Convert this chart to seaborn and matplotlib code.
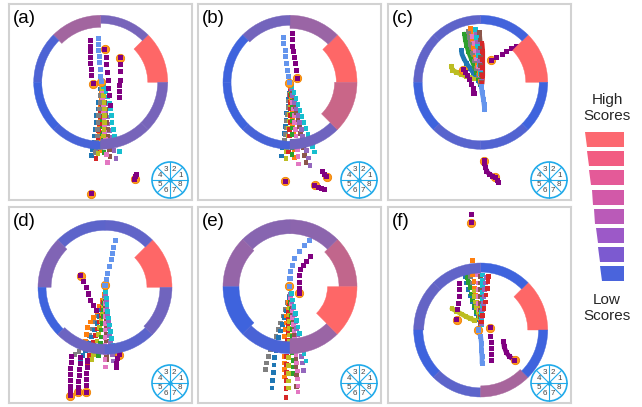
import matplotlib
matplotlib.use("Agg")
import matplotlib.pyplot as plt
from matplotlib.patches import Wedge, Circle, Polygon
from matplotlib.colors import LinearSegmentedColormap
import numpy as np
import pandas as pd
import seaborn as sns

sns.set_theme(style="white")
plt.rcParams["font.family"] = ["Liberation Sans", "DejaVu Sans"]

# ---------------------------------------------------------------- data
# Sector scores (sectors 1..8, counter-clockwise from east), 0 = low, 1 = high
A_SCORES = [1.00, 0.30, 0.52, 0.08, 0.00, 0.05, 0.30, 0.30]
B_SCORES = [1.00, 0.48, 0.28, 0.00, 0.00, 0.05, 0.25, 0.72]
C_SCORES = [1.00, 0.02, 0.17, 0.18, 0.00, 0.14, 0.10, 0.00]
D_SCORES = [1.00, 0.18, 0.16, 0.34, 0.00, 0.24, 0.15, 0.26]
E_SCORES = [0.68, 0.41, 0.38, 0.45, 0.00, 0.06, 0.48, 1.00]
F_SCORES = [1.00, 0.00, 0.18, 0.20, 0.00, 0.16, 0.55, 0.00]

# Sector weights, shown as ring thickness
A_WEIGHTS = [0.57, 0.03, 0.21, 0.03, 0.03, 0.03, 0.12, 0.12]
B_WEIGHTS = [0.60, 0.26, 0.12, 0.03, 0.03, 0.03, 0.12, 0.68]
C_WEIGHTS = [0.66, 0.05, 0.05, 0.05, 0.05, 0.05, 0.05, 0.05]
D_WEIGHTS = [0.80, 0.12, 0.12, 0.26, 0.03, 0.12, 0.12, 0.21]
E_WEIGHTS = [0.48, 0.30, 0.30, 0.39, 0.39, 0.21, 0.35, 1.00]
F_WEIGHTS = [0.57, 0.08, 0.12, 0.12, 0.08, 0.08, 0.17, 0.08]

# Agent trajectories, in units of the ring radius
A_PATHS = {
    "blue":   [(0.00,-0.10),(-0.01,-0.20),(-0.03,-0.30),(-0.04,-0.40),(-0.06,-0.50),(-0.07,-0.60),(-0.08,-0.70),(-0.09,-0.80),(-0.10,-0.90),(-0.12,-1.00),(-0.14,-1.09)],
    "orange": [(0.01,-0.14),(0.01,-0.24),(0.00,-0.34),(0.00,-0.44),(-0.01,-0.54),(-0.02,-0.64),(-0.02,-0.74),(-0.03,-0.84),(-0.03,-0.94),(-0.02,-1.02)],
    "green":  [(0.02,-0.16),(0.03,-0.26),(0.03,-0.36),(0.03,-0.46),(0.03,-0.56),(0.03,-0.66),(0.03,-0.76),(0.04,-0.86),(0.04,-0.96),(0.05,-1.05)],
    "red":    [(0.02,-0.12),(0.02,-0.22),(0.01,-0.32),(0.00,-0.42),(-0.01,-0.52),(-0.02,-0.62),(-0.03,-0.72),(-0.04,-0.82),(-0.05,-0.93),(-0.06,-1.04),(-0.07,-1.14)],
    "purple": [(0.03,-0.12),(0.05,-0.22),(0.07,-0.32),(0.08,-0.42),(0.10,-0.52),(0.11,-0.62),(0.13,-0.72),(0.15,-0.82),(0.17,-0.92),(0.20,-1.02),(0.23,-1.14)],
    "brown":  [(0.03,-0.10),(0.05,-0.20),(0.06,-0.30),(0.07,-0.40),(0.08,-0.50),(0.09,-0.60),(0.10,-0.70),(0.11,-0.80),(0.12,-0.90),(0.13,-1.00),(0.14,-1.11)],
    "pink":   [(0.02,-0.14),(0.03,-0.24),(0.04,-0.34),(0.04,-0.44),(0.05,-0.54),(0.06,-0.64),(0.06,-0.74),(0.07,-0.85),(0.08,-0.96),(0.09,-1.08),(0.10,-1.20)],
    "gray":   [(0.01,-0.10),(0.00,-0.20),(-0.01,-0.30),(-0.02,-0.40),(-0.03,-0.50),(-0.04,-0.60),(-0.05,-0.70),(-0.05,-0.80),(-0.06,-0.90),(-0.07,-0.98),(-0.08,-1.05)],
    "olive":  [(0.02,-0.10),(0.04,-0.20),(0.05,-0.30),(0.06,-0.40),(0.06,-0.50),(0.06,-0.60),(0.05,-0.70),(0.04,-0.80),(0.02,-0.90),(0.00,-0.98),(-0.04,-1.06)],
    "cyan":   [(0.04,-0.06),(0.08,-0.14),(0.11,-0.22),(0.13,-0.31),(0.15,-0.40),(0.16,-0.50),(0.17,-0.60),(0.19,-0.70),(0.21,-0.80),(0.24,-0.90),(0.28,-1.03)],
    "guide":  [(-0.04,0.65),(-0.03,0.57),(-0.03,0.48),(-0.02,0.39),(-0.02,0.29),(-0.01,0.19),(0.00,0.09),(0.01,0.01)],
    "lead1":  [(-0.15,0.63),(-0.15,0.54),(-0.15,0.46),(-0.15,0.37),(-0.15,0.28),(-0.14,0.19),(-0.13,0.10),(-0.11,-0.02)],
    "lead2":  [(0.14,-0.35),(0.13,-0.20),(0.12,-0.09),(0.11,0.02),(0.10,0.14),(0.09,0.26),(0.08,0.37),(0.06,0.49)],
    "lead3":  [(0.28,-0.22),(0.28,-0.14),(0.28,-0.05),(0.29,0.03),(0.29,0.16),(0.29,0.26),(0.29,0.37)],
    "lead4":  [(0.53,-1.37),(0.52,-1.40),(0.51,-1.45)],
    "lead5":  [(-0.14,-1.66)],
}
A_MARKED = ["guide", "lead1", "lead2", "lead3", "lead4", "lead5"]
A_LINKED = []

B_PATHS = {
    "blue":   [(0.00,-0.06),(-0.01,-0.16),(-0.02,-0.26),(-0.03,-0.36),(-0.05,-0.46),(-0.06,-0.56),(-0.07,-0.66),(-0.08,-0.76),(-0.09,-0.86),(-0.11,-0.98),(-0.13,-1.10)],
    "gray":   [(0.00,-0.08),(-0.01,-0.18),(-0.02,-0.28),(-0.03,-0.38),(-0.04,-0.48),(-0.05,-0.58),(-0.06,-0.68),(-0.07,-0.78),(-0.08,-0.87),(-0.09,-0.95)],
    "olive":  [(0.01,-0.08),(0.01,-0.18),(0.00,-0.28),(0.00,-0.38),(-0.01,-0.48),(-0.01,-0.58),(-0.02,-0.68),(-0.03,-0.80),(-0.04,-0.92),(-0.05,-1.03),(-0.06,-1.14)],
    "red":    [(0.01,-0.10),(0.01,-0.20),(0.01,-0.30),(0.00,-0.40),(0.00,-0.50),(0.00,-0.60),(-0.01,-0.70),(-0.01,-0.80),(-0.02,-0.92),(-0.02,-1.04)],
    "orange": [(0.01,-0.06),(0.02,-0.16),(0.02,-0.26),(0.03,-0.36),(0.03,-0.46),(0.04,-0.56),(0.04,-0.66),(0.05,-0.77),(0.05,-0.88),(0.06,-1.00),(0.07,-1.12)],
    "green":  [(0.02,-0.08),(0.02,-0.18),(0.03,-0.28),(0.03,-0.38),(0.03,-0.48),(0.03,-0.58),(0.03,-0.68),(0.03,-0.78),(0.03,-0.88),(0.03,-0.98),(0.03,-1.08)],
    "pink":   [(0.02,-0.10),(0.03,-0.20),(0.04,-0.30),(0.05,-0.40),(0.06,-0.50),(0.07,-0.60),(0.08,-0.70),(0.09,-0.80),(0.10,-0.90),(0.11,-1.00),(0.12,-1.11),(0.13,-1.22)],
    "brown":  [(0.02,-0.06),(0.04,-0.16),(0.06,-0.26),(0.08,-0.36),(0.10,-0.46),(0.12,-0.56),(0.14,-0.66),(0.16,-0.76),(0.18,-0.87),(0.20,-0.98),(0.22,-1.09),(0.24,-1.20)],
    "purple": [(0.02,-0.10),(0.04,-0.20),(0.07,-0.30),(0.09,-0.40),(0.12,-0.50),(0.14,-0.60),(0.17,-0.70),(0.19,-0.80),(0.22,-0.91),(0.25,-1.02),(0.28,-1.13),(0.30,-1.24)],
    "cyan":   [(0.03,-0.06),(0.06,-0.15),(0.09,-0.24),(0.12,-0.33),(0.15,-0.42),(0.18,-0.51),(0.21,-0.60),(0.24,-0.69),(0.27,-0.78),(0.31,-0.87),(0.34,-0.96),(0.37,-1.04)],
    "guide":  [(-0.10,0.67),(-0.09,0.58),(-0.07,0.48),(-0.06,0.38),(-0.05,0.28),(-0.04,0.18),(-0.02,0.08),(-0.01,-0.01)],
    "lead1":  [(0.03,0.73),(0.04,0.64),(0.04,0.54),(0.05,0.46),(0.06,0.37),(0.08,0.28),(0.10,0.17),(0.11,0.06)],
    "lead2":  [(-0.07,-1.48)],
    "lead3":  [(0.49,-1.33),(0.51,-1.37),(0.55,-1.41)],
    "lead4":  [(0.52,-1.60),(0.47,-1.58),(0.42,-1.57),(0.37,-1.54)],
}
B_MARKED = ["guide", "lead1", "lead2", "lead3", "lead4"]
B_LINKED = []

C_PATHS = {
    "blue":   [(0.00,-0.04),(-0.03,0.02),(-0.07,0.08),(-0.11,0.14),(-0.16,0.21),(-0.21,0.28),(-0.25,0.35),(-0.28,0.42),(-0.29,0.48)],
    "green":  [(0.00,-0.02),(-0.03,0.06),(-0.06,0.15),(-0.10,0.25),(-0.14,0.35),(-0.18,0.45),(-0.21,0.55),(-0.23,0.64),(-0.24,0.72)],
    "gray":   [(0.00,0.00),(-0.03,0.10),(-0.06,0.21),(-0.09,0.32),(-0.12,0.44),(-0.15,0.56),(-0.17,0.67),(-0.18,0.76)],
    "orange": [(0.00,0.02),(-0.02,0.13),(-0.05,0.25),(-0.08,0.38),(-0.11,0.52),(-0.13,0.65),(-0.15,0.80)],
    "pink":   [(0.01,0.00),(-0.01,0.11),(-0.03,0.23),(-0.06,0.35),(-0.08,0.47),(-0.10,0.58),(-0.12,0.68)],
    "purple": [(0.01,0.02),(0.00,0.16),(-0.02,0.31),(-0.04,0.46),(-0.05,0.60),(-0.06,0.72)],
    "cyan":   [(0.01,0.00),(0.00,0.13),(-0.02,0.26),(-0.03,0.40),(-0.05,0.54),(-0.06,0.67),(-0.08,0.79)],
    "brown":  [(0.01,0.00),(0.01,0.12),(0.00,0.25),(0.00,0.38),(-0.01,0.51),(-0.01,0.63),(-0.02,0.74)],
    "red":    [(0.02,-0.02),(0.03,0.10),(0.03,0.22),(0.03,0.34),(0.03,0.46),(0.02,0.58)],
    "olive":  [(-0.44,0.24),(-0.42,0.18),(-0.36,0.15),(-0.29,0.12),(-0.22,0.09),(-0.16,0.07),(-0.11,0.05)],
    "guide":  [(0.06,-0.41),(0.05,-0.33),(0.04,-0.25),(0.02,-0.15),(0.01,-0.06)],
    "lead1":  [(0.53,0.53),(0.46,0.50),(0.39,0.46),(0.32,0.42),(0.24,0.37),(0.16,0.33)],
    "lead2":  [(-0.10,-0.17),(-0.11,-0.10),(-0.13,-0.03),(-0.16,0.04),(-0.19,0.10),(-0.22,0.15),(-0.26,0.19)],
    "lead3":  [(0.27,-1.50),(0.25,-1.46),(0.22,-1.42)],
    "lead4":  [(0.18,-1.40),(0.13,-1.37),(0.09,-1.33),(0.07,-1.27),(0.06,-1.21),(0.05,-1.17)],
}
C_MARKED = ["lead1", "lead2", "lead3", "lead4"]
C_LINKED = ["blue", "green", "gray", "orange", "pink", "purple", "cyan", "brown", "red", "olive", "guide", "lead4"]

D_PATHS = {
    "gray":   [(-0.01,-0.12),(-0.04,-0.22),(-0.07,-0.32),(-0.11,-0.42),(-0.15,-0.52),(-0.19,-0.62),(-0.23,-0.72),(-0.28,-0.82),(-0.33,-0.90),(-0.39,-0.96),(-0.45,-1.00)],
    "orange": [(-0.01,-0.10),(-0.04,-0.19),(-0.08,-0.28),(-0.12,-0.37),(-0.17,-0.45),(-0.22,-0.52),(-0.26,-0.60),(-0.28,-0.70),(-0.29,-0.80),(-0.29,-0.90)],
    "blue":   [(0.00,-0.14),(-0.03,-0.24),(-0.06,-0.34),(-0.09,-0.44),(-0.12,-0.54),(-0.16,-0.64),(-0.20,-0.74),(-0.24,-0.84),(-0.29,-0.94),(-0.33,-1.02),(-0.37,-1.08)],
    "red":    [(0.00,-0.12),(-0.02,-0.22),(-0.04,-0.32),(-0.06,-0.42),(-0.09,-0.52),(-0.11,-0.62),(-0.14,-0.72),(-0.17,-0.82),(-0.20,-0.92),(-0.23,-1.02),(-0.26,-1.12)],
    "olive":  [(0.00,-0.10),(-0.01,-0.20),(-0.03,-0.30),(-0.04,-0.40),(-0.06,-0.50),(-0.08,-0.60),(-0.10,-0.70),(-0.12,-0.80),(-0.14,-0.90),(-0.17,-1.00),(-0.20,-1.08)],
    "green":  [(0.00,-0.14),(-0.01,-0.24),(-0.02,-0.34),(-0.03,-0.44),(-0.04,-0.54),(-0.05,-0.64),(-0.06,-0.74),(-0.07,-0.84),(-0.08,-0.94),(-0.10,-1.02)],
    "brown":  [(0.01,-0.10),(0.01,-0.20),(0.01,-0.30),(0.02,-0.40),(0.02,-0.50),(0.02,-0.60),(0.02,-0.70),(0.02,-0.80),(0.02,-0.90),(0.02,-1.00),(0.02,-1.08)],
    "pink":   [(0.01,-0.14),(0.01,-0.24),(0.01,-0.34),(0.00,-0.44),(0.00,-0.54),(0.00,-0.64),(0.00,-0.75),(0.00,-0.86),(0.00,-0.97),(0.00,-1.08),(0.01,-1.19)],
    "purple": [(0.01,-0.12),(0.02,-0.22),(0.03,-0.32),(0.04,-0.42),(0.05,-0.52),(0.06,-0.62),(0.07,-0.72),(0.08,-0.82),(0.09,-0.92),(0.11,-1.01),(0.12,-1.10)],
    "cyan":   [(0.01,-0.06),(0.02,-0.16),(0.03,-0.26),(0.04,-0.36),(0.05,-0.46),(0.07,-0.56),(0.08,-0.66),(0.10,-0.76),(0.12,-0.86),(0.15,-0.94),(0.18,-1.00)],
    "guide":  [(0.15,0.70),(0.13,0.60),(0.11,0.50),(0.09,0.41),(0.07,0.31),(0.04,0.21),(0.02,0.12),(0.00,0.03)],
    "lead1":  [(-0.13,-0.35),(-0.17,-0.27),(-0.21,-0.19),(-0.25,-0.10),(-0.28,-0.01),(-0.32,0.08),(-0.36,0.17)],
    "lead2":  [(-0.50,-1.03),(-0.50,-1.12),(-0.51,-1.21),(-0.51,-1.30),(-0.51,-1.39),(-0.52,-1.48),(-0.52,-1.56),(-0.52,-1.62)],
    "lead3":  [(-0.37,-1.05),(-0.37,-1.14),(-0.38,-1.23),(-0.38,-1.32),(-0.39,-1.41),(-0.39,-1.50),(-0.40,-1.57)],
    "lead4":  [(-0.26,-1.10),(-0.26,-1.19),(-0.27,-1.28),(-0.27,-1.37),(-0.28,-1.46),(-0.28,-1.57)],
    "lead5":  [(0.17,-1.19),(0.17,-1.13),(0.18,-1.07),(0.21,-1.01)],
}
D_MARKED = ["guide", "lead1", "lead2", "lead3", "lead4", "lead5"]
D_LINKED = []

E_PATHS = {
    "gray":   [(-0.01,-0.14),(-0.04,-0.24),(-0.07,-0.34),(-0.10,-0.44),(-0.14,-0.54),(-0.17,-0.64),(-0.21,-0.74),(-0.25,-0.84),(-0.29,-0.94),(-0.32,-1.04),(-0.35,-1.14),(-0.37,-1.24)],
    "blue":   [(-0.01,-0.16),(-0.03,-0.26),(-0.05,-0.36),(-0.08,-0.46),(-0.11,-0.56),(-0.14,-0.66),(-0.17,-0.76),(-0.19,-0.86),(-0.21,-0.96),(-0.23,-1.06),(-0.24,-1.17),(-0.25,-1.28),(-0.26,-1.40),(-0.27,-1.51)],
    "orange": [(0.00,-0.14),(-0.02,-0.24),(-0.03,-0.34),(-0.05,-0.44),(-0.06,-0.54),(-0.07,-0.64),(-0.08,-0.74),(-0.08,-0.84),(-0.08,-0.94),(-0.08,-1.04),(-0.08,-1.14),(-0.08,-1.24),(-0.08,-1.35)],
    "red":    [(0.00,-0.18),(-0.01,-0.28),(-0.02,-0.38),(-0.02,-0.48),(-0.03,-0.58),(-0.03,-0.68),(-0.04,-0.80),(-0.04,-0.92),(-0.05,-1.04),(-0.05,-1.16),(-0.05,-1.28),(-0.06,-1.40),(-0.06,-1.52),(-0.06,-1.65)],
    "olive":  [(0.00,-0.12),(0.00,-0.22),(-0.01,-0.32),(-0.01,-0.42),(-0.01,-0.52),(-0.01,-0.62),(-0.01,-0.72),(-0.01,-0.82),(-0.01,-0.94),(-0.02,-1.06),(-0.02,-1.18),(-0.02,-1.30),(-0.02,-1.41),(-0.02,-1.51)],
    "green":  [(0.01,-0.14),(0.01,-0.24),(0.02,-0.34),(0.02,-0.44),(0.03,-0.54),(0.03,-0.64),(0.03,-0.74),(0.04,-0.86),(0.04,-0.98),(0.05,-1.10),(0.05,-1.20),(0.05,-1.30)],
    "brown":  [(0.01,-0.12),(0.02,-0.22),(0.03,-0.32),(0.04,-0.42),(0.05,-0.52),(0.06,-0.62),(0.07,-0.72),(0.08,-0.84),(0.08,-0.96),(0.09,-1.08),(0.09,-1.20),(0.10,-1.32),(0.10,-1.49)],
    "pink":   [(0.01,-0.16),(0.02,-0.26),(0.03,-0.36),(0.04,-0.46),(0.05,-0.56),(0.06,-0.66),(0.07,-0.78),(0.08,-0.90),(0.09,-1.02),(0.10,-1.14),(0.11,-1.26),(0.11,-1.38),(0.12,-1.48),(0.12,-1.57)],
    "purple": [(0.01,-0.12),(0.03,-0.22),(0.05,-0.32),(0.07,-0.42),(0.09,-0.52),(0.10,-0.62),(0.12,-0.72),(0.14,-0.82),(0.15,-0.93),(0.17,-1.04),(0.19,-1.14),(0.20,-1.25)],
    "cyan":   [(0.02,-0.10),(0.04,-0.20),(0.06,-0.30),(0.08,-0.40),(0.10,-0.50),(0.12,-0.60),(0.14,-0.70),(0.16,-0.80),(0.19,-0.90),(0.21,-1.00),(0.24,-1.11)],
    "guide":  [(0.29,0.69),(0.21,0.61),(0.14,0.53),(0.07,0.42),(0.04,0.32),(0.01,0.22),(0.00,0.12),(-0.01,0.01)],
    "lead1":  [(0.30,0.45),(0.24,0.38),(0.20,0.32),(0.16,0.25),(0.14,0.16),(0.14,0.07),(0.14,-0.02),(0.14,-0.10)],
}
E_MARKED = ["guide", "lead1"]
E_LINKED = []

F_PATHS = {
    "blue":   [(-0.01,0.08),(-0.04,0.16),(-0.07,0.24),(-0.10,0.33),(-0.13,0.42),(-0.16,0.51),(-0.19,0.60),(-0.21,0.70),(-0.23,0.80)],
    "green":  [(-0.01,0.10),(-0.03,0.18),(-0.06,0.27),(-0.09,0.36),(-0.12,0.45),(-0.14,0.54),(-0.16,0.63),(-0.18,0.71),(-0.20,0.78)],
    "gray":   [(0.00,0.10),(-0.02,0.20),(-0.04,0.30),(-0.06,0.40),(-0.08,0.50),(-0.10,0.60),(-0.12,0.70),(-0.15,0.80)],
    "orange": [(0.00,0.12),(-0.02,0.22),(-0.04,0.32),(-0.06,0.42),(-0.08,0.52),(-0.09,0.62),(-0.10,0.72),(-0.12,0.82),(-0.12,1.04)],
    "olive":  [(0.00,0.10),(-0.02,0.18),(-0.04,0.26),(-0.06,0.34),(-0.08,0.42),(-0.09,0.50),(-0.10,0.58)],
    "olive2": [(-0.43,0.32),(-0.36,0.28),(-0.29,0.24),(-0.22,0.20),(-0.15,0.17),(-0.09,0.14)],
    "pink":   [(0.00,0.10),(-0.01,0.20),(-0.02,0.30),(-0.03,0.40),(-0.03,0.50),(-0.04,0.60),(-0.04,0.70),(-0.05,0.82)],
    "brown":  [(0.00,0.10),(0.00,0.20),(0.00,0.30),(0.00,0.40),(0.00,0.50),(0.00,0.60),(0.00,0.70),(0.00,0.80)],
    "cyan":   [(0.01,0.08),(0.01,0.16),(0.01,0.26),(0.02,0.36),(0.02,0.46),(0.02,0.56),(0.03,0.66),(0.03,0.74),(0.03,0.82)],
    "purple": [(0.01,0.10),(0.02,0.20),(0.03,0.30),(0.04,0.40),(0.05,0.50),(0.06,0.60),(0.07,0.70),(0.08,0.78)],
    "red":    [(0.01,0.12),(0.03,0.22),(0.05,0.32),(0.07,0.42),(0.08,0.52),(0.10,0.62),(0.11,0.72),(0.12,0.80)],
    "guide":  [(0.02,-0.50),(0.02,-0.40),(0.01,-0.30),(0.01,-0.20),(0.00,-0.10),(-0.04,0.00)],
    "lead1":  [(-0.31,0.69),(-0.31,0.60),(-0.32,0.50),(-0.33,0.40),(-0.34,0.30),(-0.36,0.15)],
    "lead2":  [(0.16,-0.45),(0.16,-0.36),(0.16,-0.27),(0.16,-0.18),(0.15,-0.09),(0.14,0.03)],
    "lead3":  [(0.34,-0.17),(0.35,-0.25),(0.38,-0.33),(0.43,-0.40),(0.51,-0.45)],
    "lead4":  [(-0.14,1.72),(-0.14,1.60)],
}
F_MARKED = ["guide", "lead1", "lead2", "lead3", "lead4"]
F_LINKED = ["olive2", "guide", "lead3"]

PANEL_LABELS = ["(a)", "(b)", "(c)", "(d)", "(e)", "(f)"]
LEGEND_TOP = "High\nScores"
LEGEND_BOTTOM = "Low\nScores"
LEGEND_COLOURS = ["#fc6870", "#f25c82", "#e45a98", "#d259a8", "#ba5ab8", "#9c59c8", "#7c5ad0", "#4a64dc"]

# ---------------------------------------------------------------- styling
FIG_W, FIG_H = 642, 407
RING_PX = 67.0
PANEL_W, PANEL_H = 183, 196
# panel left/top and ring centre, in figure pixels
LAYOUT = [
    (9, 4, 100.7, 82.3),
    (198, 4, 290.0, 82.3),
    (388, 4, 480.7, 82.3),
    (9, 207, 105.0, 287.3),
    (198, 207, 290.0, 286.7),
    (388, 207, 480.7, 330.0),
]

score_cmap = LinearSegmentedColormap.from_list("score", ["#3e63dd", "#fe6767"])
tab = sns.color_palette("tab10")
AGENT_COLOURS = dict(zip(["blue", "orange", "green", "red", "purple", "brown", "pink", "gray", "olive", "cyan"], tab))
LEAD_COLOUR = "#800080"
GUIDE_COLOUR = "#6495ed"
MARK_COLOUR = "#ff9a1c"
COMPASS_COLOUR = "#20aaea"


def colour_for(name):
    base = name.rstrip("0123456789")
    if base == "lead":
        return LEAD_COLOUR
    if base == "guide":
        return GUIDE_COLOUR
    return AGENT_COLOURS[base]


def draw_panel(ax, label, scores, weights, paths, marked, linked, layout):
    left, top, cx, cy = layout
    x0, x1 = (left - cx) / RING_PX, (left + PANEL_W - cx) / RING_PX
    y0, y1 = (cy - (top + PANEL_H)) / RING_PX, (cy - top) / RING_PX
    ax.set_xlim(x0, x1)
    ax.set_ylim(y0, y1)
    ax.set_xticks([])
    ax.set_yticks([])
    for sp in ax.spines.values():
        sp.set_color("#d2d2d2")
        sp.set_linewidth(1.5)

    # score ring: colour follows the sector score, thickness its weight
    for k, (s, w) in enumerate(zip(scores, weights)):
        col = score_cmap(s)
        ax.add_patch(Wedge((0, 0), 1.0, 45 * k, 45 * (k + 1), width=0.11 + 0.33 * w,
                           facecolor=col, edgecolor=col, linewidth=0.3, zorder=6))

    rows = [(name, i, x, y) for name, pts in paths.items() for i, (x, y) in enumerate(pts)]
    df = pd.DataFrame(rows, columns=["agent", "step", "x", "y"])
    palette = {name: colour_for(name) for name in paths}

    for name in linked:
        sub = df[df.agent == name]
        sns.lineplot(data=sub, x="x", y="y", sort=False, estimator=None, color=palette[name],
                     linewidth=3.4, ax=ax, legend=False, zorder=2)

    is_lead = df.agent.str.startswith("lead") | df.agent.str.startswith("guide")
    sns.scatterplot(data=df[~is_lead], x="x", y="y", hue="agent", palette=palette, marker="s",
                    s=11, linewidth=0, legend=False, ax=ax, zorder=3)
    # highlighted end points
    ends = df[df.agent.isin(marked)].groupby("agent").tail(1)
    ax.scatter(ends.x, ends.y, s=36, color=MARK_COLOUR, edgecolor="#ee8000", linewidth=0.6, zorder=4)
    sns.scatterplot(data=df[is_lead], x="x", y="y", hue="agent", palette=palette, marker="s",
                    s=13, linewidth=0, legend=False, ax=ax, zorder=5)
    ax.set_xlabel("")
    ax.set_ylabel("")

    ax.text(4 / PANEL_W, 1 - 6 / PANEL_H, label, transform=ax.transAxes, ha="left", va="top",
            fontsize=13.5, color="black")

    # sector key
    ccx, ccy, cr = x1 - 22 / RING_PX, y0 + 20 / RING_PX, 18 / RING_PX
    ax.add_patch(Circle((ccx, ccy), cr, facecolor="white", edgecolor=COMPASS_COLOUR, linewidth=1.2, zorder=7))
    for a in range(4):
        t = np.deg2rad(45 * a)
        ax.plot([ccx - cr * np.cos(t), ccx + cr * np.cos(t)], [ccy - cr * np.sin(t), ccy + cr * np.sin(t)],
                color=COMPASS_COLOUR, linewidth=0.8, zorder=7)
    ax.scatter([ccx], [ccy], s=5, color=COMPASS_COLOUR, zorder=8)
    for k in range(8):
        t = np.deg2rad(45 * k + 22.5)
        ax.text(ccx + 0.62 * cr * np.cos(t), ccy + 0.62 * cr * np.sin(t), str(k + 1), fontsize=5.8,
                color="#444444", ha="center", va="center", zorder=8)


fig = plt.figure(figsize=(FIG_W / 100, FIG_H / 100), dpi=100)
panels = [
    (A_SCORES, A_WEIGHTS, A_PATHS, A_MARKED, A_LINKED),
    (B_SCORES, B_WEIGHTS, B_PATHS, B_MARKED, B_LINKED),
    (C_SCORES, C_WEIGHTS, C_PATHS, C_MARKED, C_LINKED),
    (D_SCORES, D_WEIGHTS, D_PATHS, D_MARKED, D_LINKED),
    (E_SCORES, E_WEIGHTS, E_PATHS, E_MARKED, E_LINKED),
    (F_SCORES, F_WEIGHTS, F_PATHS, F_MARKED, F_LINKED),
]
for label, (scores, weights, paths, marked, linked), lay in zip(PANEL_LABELS, panels, LAYOUT):
    left, top = lay[0], lay[1]
    ax = fig.add_axes([left / FIG_W, 1 - (top + PANEL_H) / FIG_H, PANEL_W / FIG_W, PANEL_H / FIG_H])
    ax.set_facecolor("white")
    draw_panel(ax, label, scores, weights, paths, marked, linked, lay)

# score legend, drawn in figure pixels
lax = fig.add_axes([575 / FIG_W, 0, (FIG_W - 575) / FIG_W, 1])
lax.set_xlim(575, FIG_W)
lax.set_ylim(FIG_H, 0)
lax.axis("off")
bar_top, bar_step, bar_h, right = 132.0, 19.2, 15.0, 624.0
for i, col in enumerate(LEGEND_COLOURS):
    ya = bar_top + i * bar_step
    yb = ya + bar_h
    xa = 585 + (ya - bar_top) * 17 / 150
    xb = 585 + (yb - bar_top) * 17 / 150
    lax.add_patch(Polygon([(xa, ya), (right, ya), (right, yb), (xb, yb)], closed=True,
                          facecolor=col, edgecolor="none"))
lax.text(607, 108, LEGEND_TOP, ha="center", va="center", fontsize=11, linespacing=1.15)
lax.text(607, 308, LEGEND_BOTTOM, ha="center", va="center", fontsize=11, linespacing=1.15)

fig.savefig("out.png", dpi=100, facecolor="white")
